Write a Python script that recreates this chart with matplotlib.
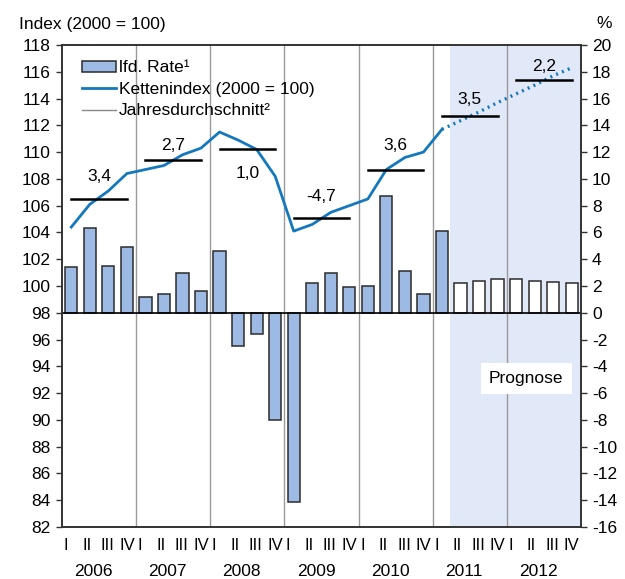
import numpy as np
import matplotlib
matplotlib.use("Agg")
import matplotlib.pyplot as plt
from matplotlib.patches import Patch
from matplotlib.lines import Line2D
import matplotlib.transforms as mtransforms

plt.rcParams['font.family'] = ['Liberation Sans', 'DejaVu Sans']
plt.rcParams['axes.unicode_minus'] = False

# data
years = ['2006', '2007', '2008', '2009', '2010', '2011', '2012']
quarters = ['I', 'II', 'III', 'IV']

# lfd. Rate (%), 2006 Q1 .. 2012 Q4 (from 2011 Q2 forecast)
rate = [3.4, 6.3, 3.5, 4.9,
        1.2, 1.4, 3.0, 1.6,
        4.6, -2.5, -1.6, -8.0,
        -14.1, 2.2, 3.0, 1.9,
        2.0, 8.7, 3.1, 1.4,
        6.1, 2.2, 2.4, 2.5,
        2.5, 2.4, 2.3, 2.2]

# Kettenindex (2000 = 100)
index = [104.4, 106.1, 107.1, 108.4,
         108.7, 109.0, 109.8, 110.3,
         111.5, 110.9, 110.2, 108.2,
         104.1, 104.6, 105.5, 106.0,
         106.5, 108.7, 109.6, 110.0,
         111.7, 112.35, 113.0, 113.7,
         114.35, 115.0, 115.7, 116.3]

# Jahresdurchschnitt (index level) and annual rate labels
annual_avg = [106.5, 109.4, 110.2, 105.1, 108.7, 112.7, 115.4]
annual_lbl = ['3,4', '2,7', '1,0', '-4,7', '3,6', '3,5', '2,2']
lbl_y = [108.2, 110.5, 108.4, 106.7, 110.5, 113.9, 116.4]

n = len(rate)
x = np.arange(n)
first_fc = 21  # first forecast quarter (2011 Q2)

fig = plt.figure(figsize=(6.25, 5.79), dpi=100)
ax = fig.add_axes([62/625, 52/579, 519/625, 482/579])
ax2 = ax.twinx()
ax.set_zorder(ax2.get_zorder() + 1)
ax.patch.set_visible(False)

# right axis: shading, year lines, bars
ax2.axvspan(first_fc - 0.57, n - 0.5, color='#e1e8f7', zorder=0, lw=0)
for k in range(1, len(years)):
    ax2.axvline(4*k - 0.5, color='#9a9a9a', lw=1.0, zorder=1)
colors = ['#9dbae4' if i < first_fc else 'white' for i in range(n)]
ax2.bar(x, rate, width=0.66, color=colors, edgecolor='#2b2b2b', lw=1.1, zorder=2)
ax2.axhline(0, color='black', lw=1.2, zorder=3)
ax2.set_ylim(-16, 20)
ax2.set_yticks(np.arange(-16, 21, 2))

# left axis: index line, averages
ax.plot(x[:first_fc], index[:first_fc], color='#1478bd', lw=2.0, zorder=4)
ax.plot(x[first_fc-1:], index[first_fc-1:], color='#1478bd', lw=2.4,
        ls=(0, (0.6, 1.3)), zorder=4)
for k, yr in enumerate(years):
    ax.plot([4*k, 4*k + 3], [annual_avg[k]]*2, color='black', lw=1.8, zorder=5)
    ax.text(4*k + 1.5, lbl_y[k], annual_lbl[k], ha='center', va='center', fontsize=12.5)

ax.set_ylim(82, 118)
ax.set_yticks(np.arange(82, 119, 2))
ax.set_xlim(-0.5, n - 0.5)
ax.set_xticks([])

for a in (ax, ax2):
    a.tick_params(axis='y', labelsize=12.5, length=4, width=1, color='#333333', pad=4)
    for s in a.spines.values():
        s.set_color('#333333')
        s.set_linewidth(1.2)

# quarter and year labels
trans = mtransforms.blended_transform_factory(ax.transData, ax.transAxes)
for i in range(n):
    ax.text(i - 0.42, -0.039, quarters[i % 4], transform=trans, ha='left',
            va='center', fontsize=12, clip_on=False)
for k, yr in enumerate(years):
    ax.text(4*k + 1.2, -0.092, yr, transform=trans, ha='center', va='center',
            fontsize=12.5, clip_on=False)

# Prognose box
ax.text(24.55, 93.1, 'Prognose', ha='center', va='center', fontsize=12.5,
        bbox=dict(facecolor='white', edgecolor='none', pad=6), zorder=6)

# legend
handles = [Patch(facecolor='#9dbae4', edgecolor='#2b2b2b', lw=1.1),
           Line2D([], [], color='#1478bd', lw=2.0),
           Line2D([], [], color='#888888', lw=1.0)]
labels = ['lfd. Rate\u00b9', 'Kettenindex (2000 = 100)', 'Jahresdurchschnitt\u00b2']
ax.legend(handles, labels, loc='upper left', bbox_to_anchor=(0.018, 0.99),
          frameon=False, fontsize=12.5, handlelength=2.0, handleheight=0.6,
          handletextpad=0.15, labelspacing=0.38, borderaxespad=0.2)

fig.text(19/625, 1 - 25/579, 'Index (2000 = 100)', ha='left', va='center', fontsize=12.5)
fig.text(604/625, 1 - 24/579, '%', ha='center', va='center', fontsize=12.5)

fig.savefig('out.png', dpi=100)
